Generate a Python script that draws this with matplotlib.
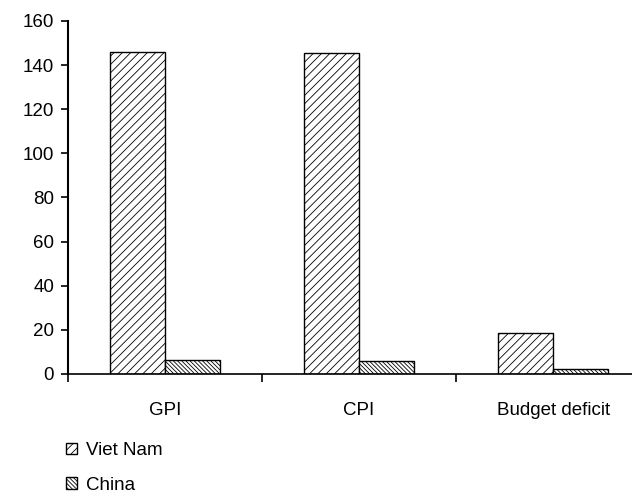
import matplotlib
matplotlib.use("Agg")
import matplotlib.pyplot as plt
import numpy as np
from matplotlib.patches import Patch

plt.rcParams['font.family'] = ['Liberation Sans', 'DejaVu Sans']
plt.rcParams['hatch.linewidth'] = 0.6

categories = ["GPI", "CPI", "Budget deficit"]
series_names = ["Viet Nam", "China"]
viet_nam = [146, 145.5, 18.5]
china = [6.2, 6.0, 2.2]
y_ticks = [0, 20, 40, 60, 80, 100, 120, 140, 160]

FS = 13.5
HATCH_VN = '////'
HATCH_CN = '\\' * 8

fig = plt.figure(figsize=(6.32, 4.96), dpi=100)
ax = fig.add_axes([0.1076, 0.246, 0.921, 0.7117])

x = np.arange(len(categories))
w = 0.2835
ax.bar(x - w / 2, viet_nam, w, facecolor='white', edgecolor='black',
       linewidth=1.0, hatch=HATCH_VN, label=series_names[0])
ax.bar(x + w / 2, china, w, facecolor='white', edgecolor='black',
       linewidth=1.0, hatch=HATCH_CN, label=series_names[1])

ax.set_xlim(-0.5, 2.5)
ax.set_ylim(0, 160)
ax.set_yticks(y_ticks)
ax.tick_params(axis='y', direction='out', length=5, width=1.2, pad=5,
               labelsize=FS)

# group boundaries carry the tick marks, group centres carry the labels
ax.set_xticks([-0.5, 0.5, 1.5, 2.5])
ax.set_xticklabels([])
ax.tick_params(axis='x', which='major', direction='out', length=6, width=1.2)
ax.set_xticks(x, minor=True)
ax.set_xticklabels(categories, minor=True)
ax.tick_params(axis='x', which='minor', length=0, pad=20, labelsize=FS)

for side in ['top', 'right']:
    ax.spines[side].set_visible(False)
ax.spines['left'].set_linewidth(1.5)
ax.spines['bottom'].set_linewidth(1.2)

handles = [Patch(facecolor='white', edgecolor='black', hatch=HATCH_VN, linewidth=1.0),
           Patch(facecolor='white', edgecolor='black', hatch=HATCH_CN, linewidth=1.0)]
fig.legend(handles, series_names, loc='upper left',
           bbox_to_anchor=(0.093, 0.124), frameon=False, fontsize=FS,
           handlelength=0.56, handleheight=0.56, handletextpad=0.48,
           labelspacing=0.95, borderaxespad=0)

fig.savefig("out.png", dpi=100)
